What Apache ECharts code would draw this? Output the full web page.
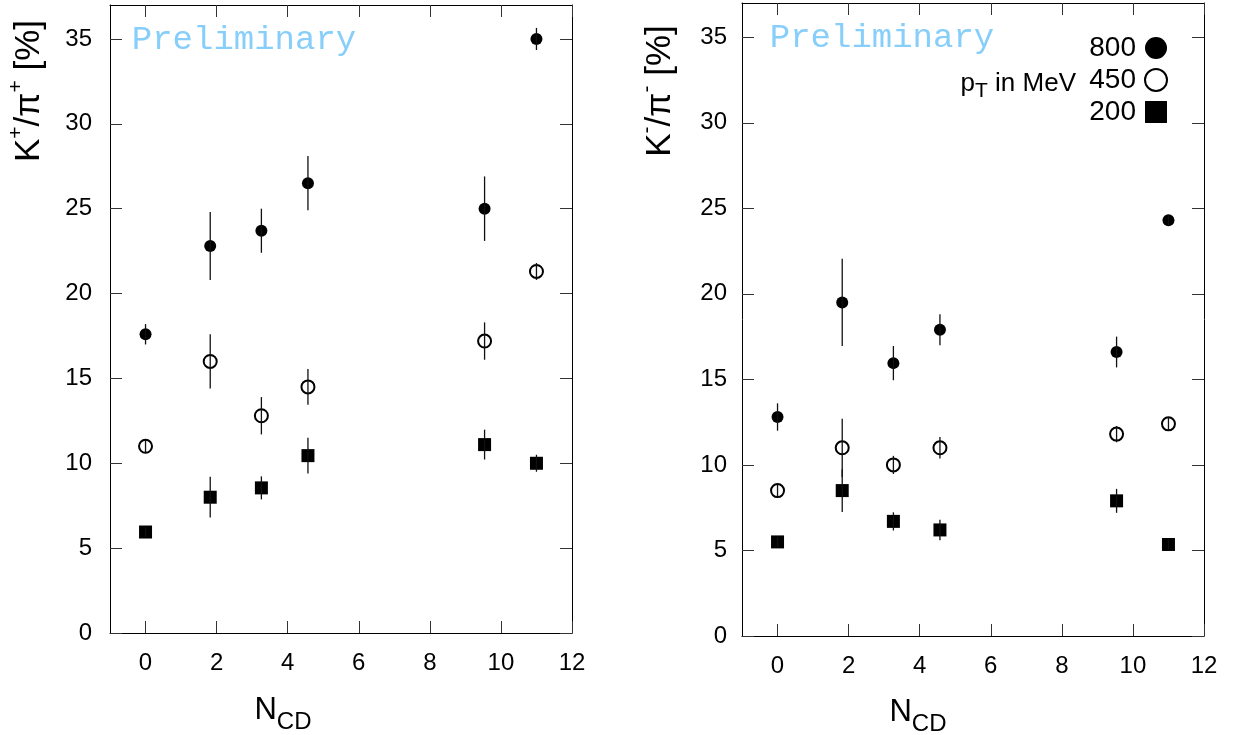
<!DOCTYPE html>
<html>
<head>
<meta charset="utf-8">
<script src="https://cdn.jsdelivr.net/npm/echarts@6/dist/echarts.min.js"></script>
<style>html,body{margin:0;padding:0;background:#fff}#c{width:1235px;height:735px}</style>
</head>
<body>
<div id="c"></div>
<script>
// ---- data ----
const nCD = [0, 1.82, 3.26, 4.57, 9.54, 11];
const xTicks = [0, 2, 4, 6, 8, 10, 12];
const yTicks = [0, 5, 10, 15, 20, 25, 30, 35];
const ptLabels = ['800', '450', '200'];

// K+/pi+ [%]
const kpPi800 = [17.6, 22.8, 23.7, 26.5, 25.0, 35.0];
const kpErr800 = [0.6, 2.0, 1.3, 1.6, 1.9, 0.65];
const kpPi450 = [11.0, 16.0, 12.8, 14.5, 17.2, 21.3];
const kpErr450 = [0.4, 1.6, 1.1, 1.05, 1.1, 0.5];
const kpPi200 = [5.95, 8.0, 8.55, 10.45, 11.1, 10.0];
const kpErr200 = [0.3, 1.2, 0.68, 1.05, 0.88, 0.5];

// K-/pi- [%]
const kmPi800 = [12.8, 19.5, 15.95, 17.9, 16.6, 24.3];
const kmErr800 = [0.8, 2.55, 1.0, 0.9, 0.9, 0.3];
const kmPi450 = [8.5, 11.0, 10.0, 11.0, 11.8, 12.4];
const kmErr450 = [0.35, 1.7, 0.53, 0.63, 0.48, 0.4];
const kmPi200 = [5.5, 8.5, 6.7, 6.2, 7.9, 5.35];
const kmErr200 = [0.3, 1.25, 0.53, 0.6, 0.7, 0.3];

// ---- chart ----
const FONT = 'Liberation Sans, Arial, sans-serif';
const chart = echarts.init(document.getElementById('c'), null, {renderer: 'canvas'});

function xAx(grid, pos) {
  return {
    type: 'value', gridIndex: grid, position: pos, min: -1, max: 12,
    axisLine: {show: true, onZero: false, lineStyle: {color: '#000', width: 1}},
    axisTick: {show: true, inside: true, length: 12, customValues: xTicks, lineStyle: {color: '#333', width: 1}},
    axisLabel: {show: pos === 'bottom', customValues: xTicks, margin: 18, color: '#000', fontSize: 24, fontFamily: FONT},
    splitLine: {show: false}
  };
}
function yAx(grid, pos, margin) {
  return {
    type: 'value', gridIndex: grid, position: pos, min: 0, max: 37,
    axisLine: {show: true, onZero: false, lineStyle: {color: '#000', width: 1}},
    axisTick: {show: true, inside: true, length: 12, customValues: yTicks, lineStyle: {color: '#333', width: 1}},
    axisLabel: {show: pos === 'left', customValues: yTicks, margin: margin, color: '#000', fontSize: 24, fontFamily: FONT},
    splitLine: {show: false}
  };
}

function errData(vals, errs) {
  return nCD.map((x, i) => [x, vals[i] - errs[i], vals[i] + errs[i]]);
}
function pts(vals) { return nCD.map((x, i) => [x, vals[i]]); }

function errSeries(xi, yi, vals, errs) {
  return {
    type: 'custom', xAxisIndex: xi, yAxisIndex: yi, z: 5, silent: true,
    data: errData(vals, errs),
    renderItem: function (params, api) {
      const a = api.coord([api.value(0), api.value(1)]);
      const b = api.coord([api.value(0), api.value(2)]);
      return {type: 'line', shape: {x1: a[0], y1: a[1], x2: b[0], y2: b[1]},
        style: {stroke: '#111', lineWidth: 1.3}};
    }
  };
}
function panel(xi, yi, v800, e800, v450, e450, v200, e200) {
  return [
    {name: ptLabels[0], type: 'scatter', xAxisIndex: xi, yAxisIndex: yi, symbol: 'circle', symbolSize: 12,
      itemStyle: {color: '#000', opacity: 1}, data: pts(v800)},
    {name: ptLabels[1], type: 'scatter', xAxisIndex: xi, yAxisIndex: yi, symbol: 'emptyCircle', symbolSize: 13,
      itemStyle: {color: '#000', borderWidth: 1.1, opacity: 1}, data: pts(v450)},
    {name: ptLabels[2], type: 'scatter', xAxisIndex: xi, yAxisIndex: yi, symbol: 'rect', symbolSize: 13,
      itemStyle: {color: '#000', opacity: 1}, data: pts(v200)},
    errSeries(xi, yi, v800, e800),
    errSeries(xi, yi, v450, e450),
    errSeries(xi, yi, v200, e200)
  ];
}

const richY = {
  b: {fontSize: 35, fontFamily: FONT, color: '#000', lineHeight: 46},
  s: {fontSize: 21, fontFamily: FONT, color: '#000', lineHeight: 21, verticalAlign: 'top'}
};
const richX = {
  b: {fontSize: 31, fontFamily: FONT, color: '#000', lineHeight: 48},
  s: {fontSize: 24, fontFamily: FONT, color: '#000', lineHeight: 22, verticalAlign: 'bottom'}
};
const richP = {
  b: {fontSize: 26, fontFamily: FONT, color: '#000', lineHeight: 36},
  s: {fontSize: 21, fontFamily: FONT, color: '#000', lineHeight: 20, verticalAlign: 'bottom'}
};

const option = {
  animation: false,
  backgroundColor: '#fff',
  grid: [
    {left: 110, top: 5, width: 462, height: 628},
    {left: 742, top: 3, width: 462, height: 633}
  ],
  xAxis: [xAx(0, 'bottom'), xAx(0, 'top'), xAx(1, 'bottom'), xAx(1, 'top')],
  yAxis: [yAx(0, 'left', 18), yAx(0, 'right', 18), yAx(1, 'left', 15), yAx(1, 'right', 15)],
  legend: {
    data: ptLabels, orient: 'vertical', right: 67, top: 34, padding: 0,
    align: 'right', itemWidth: 22, itemHeight: 22, itemGap: 4,
    itemStyle: {opacity: 1},
    textStyle: {fontSize: 28, fontFamily: FONT, color: '#000', lineHeight: 28, padding: [0, 4, 0, 0]},
    selectedMode: false
  },
  graphic: [
    {type: 'text', x: 244, y: 40, silent: true,
      style: {text: 'Preliminary', fill: '#87cefa', font: '34px "Liberation Mono", "Courier New", monospace', align: 'center', verticalAlign: 'middle'}},
    {type: 'text', x: 882, y: 38, silent: true,
      style: {text: 'Preliminary', fill: '#87cefa', font: '34px "Liberation Mono", "Courier New", monospace', align: 'center', verticalAlign: 'middle'}},
    {type: 'text', x: 29, y: 91, rotation: Math.PI / 2, silent: true,
      style: {text: '{b|K}{s|+}{b|/π}{s|+}{b| [%]}', rich: richY, align: 'center', verticalAlign: 'middle'}},
    {type: 'text', x: 660, y: 91, rotation: Math.PI / 2, silent: true,
      style: {text: '{b|K}{s|-}{b|/π}{s|-}{b| [%]}', rich: richY, align: 'center', verticalAlign: 'middle'}},
    {type: 'text', x: 283, y: 710, silent: true,
      style: {text: '{b|N}{s|CD}', rich: richX, align: 'center', verticalAlign: 'middle'}},
    {type: 'text', x: 918, y: 712, silent: true,
      style: {text: '{b|N}{s|CD}', rich: richX, align: 'center', verticalAlign: 'middle'}},
    {type: 'text', x: 1076, y: 84, silent: true,
      style: {text: '{b|p}{s|T}{b| in MeV}', rich: richP, align: 'right', verticalAlign: 'middle'}}
  ],
  series: [].concat(
    panel(0, 0, kpPi800, kpErr800, kpPi450, kpErr450, kpPi200, kpErr200),
    panel(2, 2, kmPi800, kmErr800, kmPi450, kmErr450, kmPi200, kmErr200)
  )
};
chart.setOption(option);
</script>
</body>
</html>
